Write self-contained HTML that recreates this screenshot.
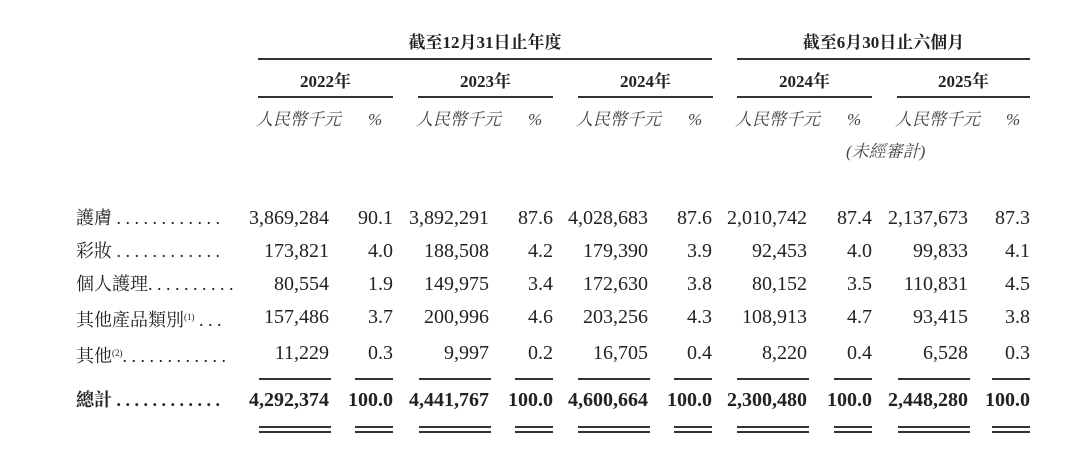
<!DOCTYPE html>
<html><head><meta charset="utf-8"><style>
body{margin:0;width:1080px;height:460px;background:#fff;overflow:hidden;position:relative;font-family:"Liberation Serif","Noto Serif CJK SC",serif;color:#222}
.t{position:absolute;white-space:nowrap;line-height:20px}
.r{text-align:right}
.c{text-align:center}
.n{font-size:20px}
.b{font-weight:bold}
.h{position:absolute;height:1.6px;background:#333}
.u{font-style:italic;font-size:17px;color:#444;font-family:"Liberation Serif","Noto Serif CJK SC",serif}
.l{font-size:18px;position:absolute;left:76px;white-space:nowrap;line-height:20px}
sup{font-size:9px;vertical-align:6px}
</style></head><body>
<div class="t c b" style="left:258px;width:454px;top:33px;font-size:17px">截至12月31日止年度</div>
<div class="h" style="left:258px;width:454px;top:58px"></div>
<div class="t c b" style="left:737px;width:293px;top:33px;font-size:17px">截至6月30日止六個月</div>
<div class="h" style="left:737px;width:293px;top:58px"></div>

<div class="t c b" style="left:258px;width:135px;top:72px;font-size:17px">2022年</div>
<div class="t c b" style="left:418px;width:135px;top:72px;font-size:17px">2023年</div>
<div class="t c b" style="left:578px;width:135px;top:72px;font-size:17px">2024年</div>
<div class="t c b" style="left:737px;width:135px;top:72px;font-size:17px">2024年</div>
<div class="t c b" style="left:897px;width:133px;top:72px;font-size:17px">2025年</div>
<div class="h" style="left:258px;width:135px;top:96px"></div>
<div class="h" style="left:418px;width:135px;top:96px"></div>
<div class="h" style="left:578px;width:135px;top:96px"></div>
<div class="h" style="left:737px;width:135px;top:96px"></div>
<div class="h" style="left:897px;width:133px;top:96px"></div>

<div class="t u" style="left:256px;top:110px">人民幣千元</div><div class="t u" style="left:368px;top:110px">%</div>
<div class="t u" style="left:416px;top:110px">人民幣千元</div><div class="t u" style="left:528px;top:110px">%</div>
<div class="t u" style="left:576px;top:110px">人民幣千元</div><div class="t u" style="left:688px;top:110px">%</div>
<div class="t u" style="left:735px;top:110px">人民幣千元</div><div class="t u" style="left:847px;top:110px">%</div>
<div class="t u" style="left:895px;top:110px">人民幣千元</div><div class="t u" style="left:1006px;top:110px">%</div>
<div class="t u" style="left:846px;top:142px">(未經審計)</div>

<div id="rows"></div>
<div class="l" style="top:208px">護膚 . . . . . . . . . . . .</div>
<div class="l" style="top:241px">彩妝 . . . . . . . . . . . .</div>
<div class="l" style="top:274px">個人護理. . . . . . . . . .</div>
<div class="l" style="top:307px">其他產品類別<sup>(1)</sup> . . .</div>
<div class="l" style="top:343px">其他<sup>(2)</sup>. . . . . . . . . . . .</div>
<div class="l b" style="top:390px">總計 . . . . . . . . . . . .</div>

<script>
var A=[329,489,648,807,968],P=[393,553,712,872,1030];
var rows=[
[208,["3,869,284","90.1","3,892,291","87.6","4,028,683","87.6","2,010,742","87.4","2,137,673","87.3"],""],
[241,["173,821","4.0","188,508","4.2","179,390","3.9","92,453","4.0","99,833","4.1"],""],
[274,["80,554","1.9","149,975","3.4","172,630","3.8","80,152","3.5","110,831","4.5"],""],
[307,["157,486","3.7","200,996","4.6","203,256","4.3","108,913","4.7","93,415","3.8"],""],
[343,["11,229","0.3","9,997","0.2","16,705","0.4","8,220","0.4","6,528","0.3"],""],
[390,["4,292,374","100.0","4,441,767","100.0","4,600,664","100.0","2,300,480","100.0","2,448,280","100.0"]," b"]];
var h="";
rows.forEach(function(r){for(var i=0;i<5;i++){
h+='<div class="t r n'+r[2]+'" style="left:'+(A[i]-150)+'px;width:150px;top:'+r[0]+'px">'+r[1][2*i]+'</div>';
h+='<div class="t r n'+r[2]+'" style="left:'+(P[i]-80)+'px;width:80px;top:'+r[0]+'px">'+r[1][2*i+1]+'</div>';}});
for(var i=0;i<5;i++){
var a0=A[i]-70,p0=P[i]-38;
h+='<div class="h" style="left:'+a0+'px;width:72px;top:378px"></div>';
h+='<div class="h" style="left:'+p0+'px;width:38px;top:378px"></div>';
[426,431].forEach(function(y){
h+='<div class="h" style="left:'+a0+'px;width:72px;top:'+y+'px"></div>';
h+='<div class="h" style="left:'+p0+'px;width:38px;top:'+y+'px"></div>';});}
document.getElementById('rows').innerHTML=h;
</script>
</body></html>
